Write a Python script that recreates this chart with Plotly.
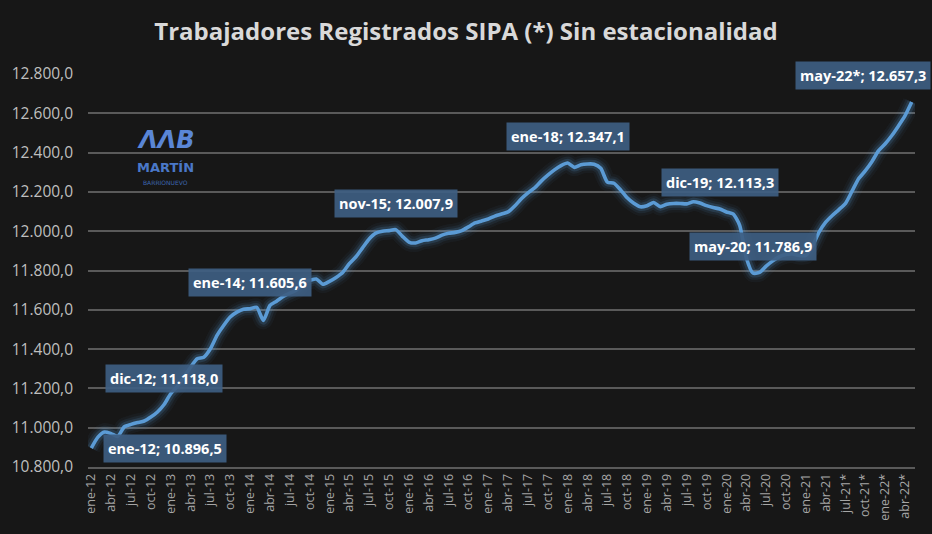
import plotly.graph_objects as go

# ---------------- data ----------------
month_abbr = ["ene", "feb", "mar", "abr", "may", "jun", "jul", "ago", "sep", "oct", "nov", "dic"]
start_year = 2012
n_months = 125           # ene-12 .. may-22
provisional_from = 114   # jul-21 onwards marked with *

workers = [
    10896.5, 10952, 10978, 10970, 10956, 11005, 11017, 11026, 11034, 11054, 11080, 11118.0,
    11173, 11210, 11257, 11308, 11351, 11359, 11402, 11470, 11520, 11563, 11588, 11603,
    11605.6, 11613, 11546, 11622, 11644, 11668, 11685, 11700, 11740, 11750, 11757, 11730,
    11745, 11765, 11790, 11835, 11870, 11915, 11960, 11990, 12000, 12003, 12007.9, 11975,
    11945, 11940, 11952, 11957, 11965, 11980, 11989, 11994, 12003, 12022, 12042, 12052,
    12062, 12077, 12088, 12098, 12128, 12165, 12195, 12220, 12255, 12285, 12312, 12334,
    12347.1, 12325, 12338, 12342, 12341, 12320, 12250, 12244, 12210, 12170, 12142, 12124,
    12130, 12146, 12125, 12137, 12141, 12141, 12139, 12150, 12143, 12130, 12120, 12113.3,
    12098, 12088, 12030, 11865, 11786.9, 11790, 11822, 11849, 11870, 11881, 11884, 11876,
    11877, 11925, 11995, 12046, 12080, 12110, 12142, 12205, 12268, 12308, 12355, 12410,
    12445, 12487, 12536, 12588, 12657.3,
]

categories = []
for i in range(n_months):
    y = start_year + i // 12
    lab = f"{month_abbr[i % 12]}-{str(y)[2:]}"
    if i >= provisional_from:
        lab += "*"
    categories.append(lab)

tick_vals = categories[::3]

labelled = ["ene-12", "dic-12", "ene-14", "nov-15", "ene-18", "dic-19", "may-20", "may-22*"]

def es_fmt(v):
    s = f"{v:,.1f}"
    return s.replace(",", "#").replace(".", ",").replace("#", ".")

# ---------------- figure ----------------
BG = "#171717"
LINE = "#5b9bd5"

fig = go.Figure()

# glow layers
for w, a in [(18, 0.05), (13, 0.09), (8.5, 0.17)]:
    fig.add_trace(go.Scatter(
        x=categories, y=workers, mode="lines",
        line=dict(color=f"rgba(91,155,213,{a})", width=w, shape="spline", smoothing=0.6),
        hoverinfo="skip", showlegend=False))

fig.add_trace(go.Scatter(
    x=categories, y=workers, mode="lines",
    line=dict(color=LINE, width=3.6, shape="spline", smoothing=0.6),
    showlegend=False))

# data labels
label_style = dict(
    showarrow=False, bgcolor="rgba(62,94,130,0.92)", borderpad=4,
    font=dict(family="Open Sans", size=14.5, color="white", weight="bold"),
    xref="x", yref="y")

for cat in labelled:
    i = categories.index(cat)
    v = workers[i]
    txt = f"{cat}; {es_fmt(v)}"
    if cat == "ene-12":
        fig.add_annotation(x=cat, y=v, text=txt, xanchor="left", yanchor="middle",
                           xshift=12, yshift=0, **label_style)
    elif cat == "may-22*":
        fig.add_annotation(x=cat, y=v, text=txt, xanchor="right", yanchor="bottom",
                           xshift=19, yshift=12, **label_style)
    else:
        fig.add_annotation(x=cat, y=v, text=txt, xanchor="center", yanchor="bottom",
                           xshift=0, yshift=12, **label_style)

W, H = 932, 534
ml, mr, mt, mb = 88, 17, 74, 67
pw, ph = W - ml - mr, H - mt - mb

def px_to_paper(px, py):
    return (px - ml) / pw, 1 - (py - mt) / ph

logo_parts = [
    ("<i>ΛΛB</i>", 165, 140, 24, "#5a86d6", "bold"),
    ("MARTÍN", 165, 167.5, 13, "#4a78c8", "bold"),
    ("BARRIONUEVO", 165, 182.5, 6, "#3d66b0", "normal"),
]
for txt, px, py, sz, col, wt in logo_parts:
    lx, ly = px_to_paper(px, py)
    fig.add_annotation(x=lx, y=ly, xref="paper", yref="paper", showarrow=False,
                       xanchor="center", yanchor="middle", text=txt, borderpad=0,
                       font=dict(family="DejaVu Sans", size=sz, color=col, weight=wt))

fig.update_layout(
    width=W, height=H,
    paper_bgcolor=BG, plot_bgcolor=BG,
    margin=dict(l=ml, r=mr, t=mt, b=mb, autoexpand=False),
    separators=",.",
    title=dict(text="Trabajadores Registrados SIPA (*) Sin estacionalidad",
               x=0.5, xref="container", xanchor="center",
               y=1 - 32 / H, yref="container", yanchor="middle",
               font=dict(family="Open Sans", size=24, color="#d9d9d9", weight="bold")),
    xaxis=dict(type="category", categoryorder="array", categoryarray=categories,
               range=[-0.5, n_months - 0.5],
               tickmode="array", tickvals=tick_vals, ticktext=tick_vals,
               tickangle=-90, tickfont=dict(family="Open Sans", size=12.5, color="#a6a6a6"),
               showgrid=False, showline=True, linecolor="#5a5a5a", linewidth=1.5,
               ticks="", zeroline=False),
    yaxis=dict(range=[10800, 12800], dtick=200, tickformat=",.1f",
               tickfont=dict(family="Open Sans", size=15.5, color="#bfbfbf"),
               gridcolor="#5a5a5a", gridwidth=1.5, zeroline=False, ticks="",
               ticklabelstandoff=14),
)

fig.write_html("out.html", config={"displayModeBar": False},
               post_script="document.body.style.margin='0';document.body.style.background='%s';" % BG)
